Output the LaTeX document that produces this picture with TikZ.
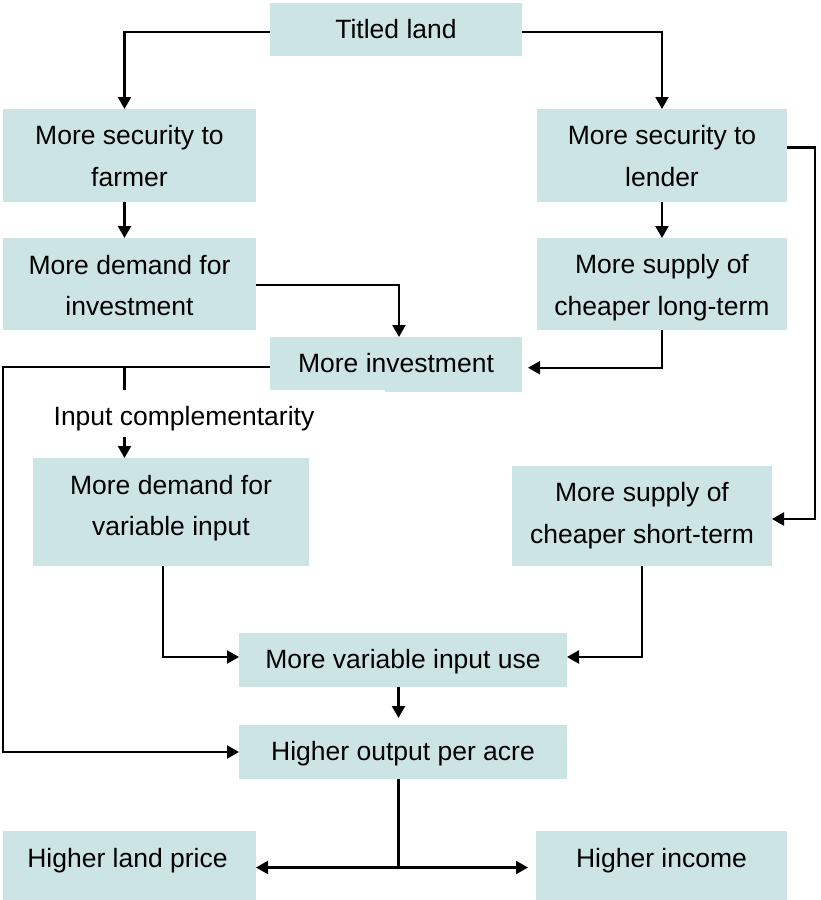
\documentclass[tikz,border=0pt]{standalone}
\usepackage{fontspec}
\setmainfont{Liberation Sans}
\usetikzlibrary{arrows.meta}
\definecolor{boxfill}{RGB}{204,229,228}
\begin{document}
\begin{tikzpicture}[x=1pt,y=-1pt,
  box/.style={rectangle, fill=boxfill, inner sep=0pt, outer sep=0pt},
  boxtext/.style={font=\fontsize{26.5}{41.5}\selectfont, align=center, inner sep=0pt},
  link/.style={line width=2.2pt, line join=miter},
  arr/.style={link, -{Triangle[width=13pt,length=12pt]}}]
\useasboundingbox (0,0) rectangle (821,900);

% boxes
\node[box, minimum width=252pt, minimum height=53pt,
  label={[boxtext,name=titled-t]center:Titled land}] (titled) at (396,29.5) {};
\node[box, minimum width=253pt, minimum height=93pt,
  label={[boxtext,name=farmer-t,yshift=-0.5pt]center:More security to\\farmer}] (farmer) at (129.5,155.5) {};
\node[box, minimum width=250pt, minimum height=93pt,
  label={[boxtext,name=lender-t,yshift=-0.5pt]center:More security to\\lender}] (lender) at (662,155.5) {};
\node[box, minimum width=253pt, minimum height=92pt,
  label={[boxtext,name=demandinv-t,yshift=-1.5pt]center:More demand for\\investment}] (demandinv) at (129.5,284) {};
\node[box, minimum width=250pt, minimum height=92pt,
  label={[boxtext,name=longterm-t,yshift=-3.5pt]center:More supply of\\cheaper long-term}] (longterm) at (662,284) {};
\fill[boxfill] (385,380) rectangle (522,392);
\node[box, minimum width=252pt, minimum height=52.5pt,
  label={[boxtext,name=invest-t]center:More investment}] (invest) at (396,363.25) {};
\node[box, minimum width=276pt, minimum height=108pt,
  label={[boxtext,name=demandvar-t,yshift=4pt]center:More demand for\\variable input}] (demandvar) at (171,512) {};
\node[box, minimum width=260pt, minimum height=100pt,
  label={[boxtext,name=shortterm-t,yshift=0.5pt]center:More supply of\\cheaper short-term}] (shortterm) at (642,516) {};
\node[box, minimum width=328pt, minimum height=54.5pt,
  label={[boxtext,name=varuse-t,yshift=-2pt]center:More variable input use}] (varuse) at (403,660) {};
\node[box, minimum width=328pt, minimum height=54pt,
  label={[boxtext,name=output-t,yshift=-2pt]center:Higher output per acre}] (output) at (403,752) {};
\node[box, minimum width=253pt, minimum height=69pt,
  label={[boxtext,name=landprice-t,yshift=4.5pt,xshift=-2pt]center:Higher land price}] (landprice) at (129.5,865.5) {};
\node[box, minimum width=251pt, minimum height=69pt,
  label={[boxtext,name=income-t,yshift=4.5pt]center:Higher income}] (income) at (661.5,865.5) {};

% free label on the branch
\node[boxtext] (comp) at (184,419) {Input complementarity};

% connectors
\draw[arr] ([yshift=-2.5pt]titled.west) -| ([xshift=-5pt]farmer.north);
\draw[arr] ([yshift=-2.5pt]titled.east) -| (lender.north);
\draw[arr] ([xshift=-5pt]farmer.south) -- ([xshift=-5pt]demandinv.north);
\draw[arr] (lender.south) -- (longterm.north);
\draw[arr] ([yshift=-1pt]demandinv.east) -| ([xshift=3pt]invest.north);
\draw[arr, shorten >=6pt] (longterm.south) |- ([yshift=-4.5pt]invest.east);
\draw[arr] ([yshift=8pt]lender.east) -- ++(28,0) |- ([yshift=-3pt]shortterm.east);
\draw[arr] ([yshift=-3.5pt]invest.west) -- ++(-267,0) |- (output.west);
\coordinate (split) at (124.5,366.75);
\draw[link] (split) -- ++(0,23);
\draw[arr] ([yshift=-18pt]split |- comp.center) -- (split |- demandvar.north);
\draw[arr] ([xshift=-8pt]demandvar.south) |- ([yshift=3pt]varuse.west);
\draw[arr] (shortterm.south) |- ([yshift=3pt]varuse.east);
\draw[arr, shorten >=7pt] ([xshift=-4.5pt]varuse.south) -- ([xshift=-4.5pt]output.north);
\coordinate (fork) at (398.5,867.5);
\draw[link] ([xshift=-4.5pt]output.south) -- (fork);
\draw[arr] (fork) -- (landprice.east |- fork);
\draw[arr, shorten >=8pt] (fork) -- (income.west |- fork);
\end{tikzpicture}
\end{document}
